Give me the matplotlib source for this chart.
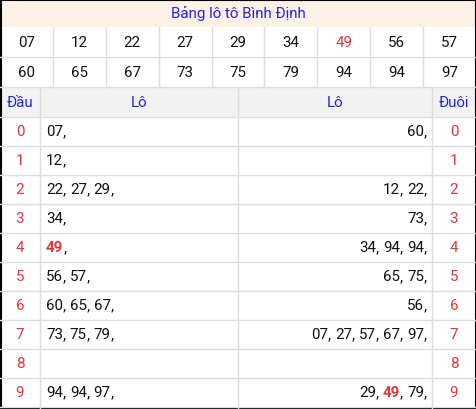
import matplotlib
matplotlib.use("Agg")
import matplotlib.pyplot as plt
from matplotlib.patches import Rectangle

title = "Bảng lô tô Bình Định"
numbers = ["07","12","22","27","29","34","49","56","57",
           "60","65","67","73","75","79","94","94","97"]
special = "49"
dau = {0:["07"],1:["12"],2:["22","27","29"],3:["34"],4:["49"],5:["56","57"],
       6:["60","65","67"],7:["73","75","79"],8:[],9:["94","94","97"]}
duoi = {0:["60"],1:[],2:["12","22"],3:["73"],4:["34","94","94"],5:["65","75"],
        6:["56"],7:["07","27","57","67","97"],8:[],9:["29","49","79"]}

plt.rcParams['font.family'] = ['Roboto', 'DejaVu Sans']
W, H = 476, 410
fig = plt.figure(figsize=(W/100, H/100), dpi=100)
ax = fig.add_axes([0, 0, 1, 1])
ax.set_xlim(0, W); ax.set_ylim(H, 0); ax.axis('off')
grid = '#dddddd'; blue = '#2222ee'; red = '#e8333a'
fs = 10.9

ax.add_patch(Rectangle((0, 0), W, 28, fc='#fdf1e6', ec='none'))
ax.text(W/2, 14, title, color=blue, ha='center', va='center', fontsize=fs)
cw = W/9
for i, n in enumerate(numbers):
    r, c = divmod(i, 9)
    y = 28 + r*30 + 15
    ax.text(c*cw + cw/2, y, n, ha='center', va='center', fontsize=fs,
            color=red if n == special else '#111111')
for r in range(2):
    ax.plot([0, W], [28+30*(r+1)]*2, color=grid, lw=1)
    for c in range(1, 9):
        ax.plot([c*cw]*2, [28+30*r, 58+30*r], color=grid, lw=1)

ax.add_patch(Rectangle((0, 88), W, 30, fc='#f2f2f2', ec='none'))
xs = [0, 40, 238, 432, W]
for i, lab in enumerate(["Đầu", "Lô", "Lô", "Đuôi"]):
    ax.text((xs[i]+xs[i+1])/2, 103, lab, color=blue, ha='center', va='center', fontsize=fs)
rh = 29
for x in xs[1:-1]:
    ax.plot([x, x], [88, H], color=grid, lw=1)
for r in range(11):
    ax.plot([0, W], [118+r*rh]*2, color=grid, lw=1)

fig.canvas.draw()
rend = fig.canvas.get_renderer()
def width_px(s, bold):
    t = ax.text(0, 0, s, fontsize=fs, fontweight='bold' if bold else 'normal')
    w = t.get_window_extent(rend).width
    t.remove()
    return w

def draw_tokens(tokens, x, y, align):
    parts = []
    for k, n in enumerate(tokens):
        parts.append((n, n == special))
        parts.append((", " if k < len(tokens)-1 else ",", False))
    total = sum(width_px(s, b) for s, b in parts)
    cx = x if align == 'left' else x - total
    for s, b in parts:
        ax.text(cx, y, s, fontsize=fs, va='center', ha='left',
                color=red if b else '#111111', fontweight='bold' if b else 'normal')
        cx += width_px(s, b)

for d in range(10):
    y = 118 + d*rh + rh/2
    ax.text(20, y, str(d), color=red, ha='center', va='center', fontsize=fs)
    ax.text(454, y, str(d), color=red, ha='center', va='center', fontsize=fs)
    if dau[d]:
        draw_tokens(dau[d], 46, y, 'left')
    if duoi[d]:
        draw_tokens(duoi[d], 427, y, 'right')

ax.add_patch(Rectangle((0.5, 0.5), W-1, H-1, fc='none', ec='black', lw=1.5))
fig.savefig('out.png', dpi=100)
